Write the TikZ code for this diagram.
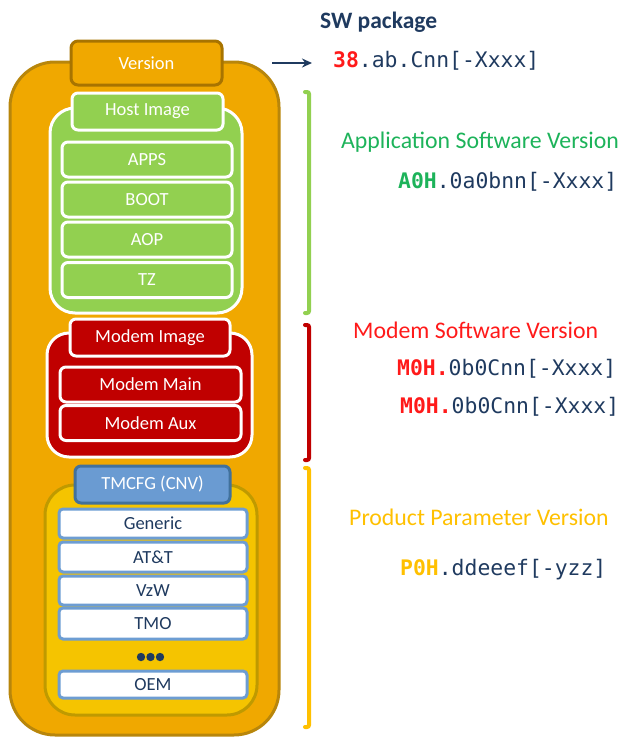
\documentclass[tikz,border=0pt]{standalone}
\usepackage{fontspec}
\setmainfont{Carlito}
\newfontfamily\monof{DejaVu Sans Mono}
\usetikzlibrary{arrows.meta}
\definecolor{orfill}{HTML}{F0A800}
\definecolor{ordraw}{HTML}{B8860B}
\definecolor{verdraw}{HTML}{A87400}
\definecolor{grn}{HTML}{92D050}
\definecolor{rd}{HTML}{C00000}
\definecolor{ylfill}{HTML}{F5C400}
\definecolor{yldraw}{HTML}{BF9A00}
\definecolor{blfill}{HTML}{6A9BD2}
\definecolor{bldraw}{HTML}{41719C}
\definecolor{blline}{HTML}{6D9DD3}
\definecolor{navy}{HTML}{1F3A5F}
\definecolor{appgreen}{HTML}{1DB35A}
\definecolor{brred}{HTML}{FF1A1A}
\definecolor{prodyel}{HTML}{FFC000}
\tikzset{
  box/.style={rectangle, inner sep=0pt, line width=3pt, font=\fontsize{18.5}{20}\selectfont},
  whitebox/.style={box, draw=white, text=white},
  listbox/.style={box, draw=blline, fill=white, text=navy, rounded corners=4pt, minimum width=188pt},
  label/.style={inner sep=0pt, anchor=west, font=\fontsize{23.8}{26}\selectfont},
  code/.style={inner sep=0pt, anchor=west, text=navy, font=\fontsize{21.4}{24}\monof, text height=16pt, text depth=5pt},
  bracket/.style={line width=4pt, line cap=round, rounded corners=2pt}
}
\begin{document}
\begin{tikzpicture}[x=1pt,y=-1pt]
\useasboundingbox (0,0) rectangle (622,737);
% outer container
\node[box, draw=ordraw, fill=orfill, rounded corners=45pt, minimum width=269pt, minimum height=673pt] (outer) at (144.5,398.5) {};
\node[box, draw=verdraw, fill=orfill, text=white, rounded corners=7pt, minimum width=151pt, minimum height=44pt] (version) at (146.5,63) {Version};
% host group
\node[whitebox, fill=grn, rounded corners=25pt, minimum width=192pt, minimum height=205pt] (hostgrp) at (146,210.5) {};
\node[whitebox, fill=grn, rounded corners=6pt, minimum width=151pt, minimum height=37pt] (hosttab) at (147.5,111.5) {Host Image};
\node[whitebox, fill=grn, rounded corners=6pt, minimum width=170pt, minimum height=35pt] (apps) at (147,159.5) {APPS};
\node[whitebox, fill=grn, rounded corners=6pt, minimum width=170pt, minimum height=35pt] (boot) at (147,199.5) {BOOT};
\node[whitebox, fill=grn, rounded corners=6pt, minimum width=170pt, minimum height=35pt] (aop) at (147,239.5) {AOP};
\node[whitebox, fill=grn, rounded corners=6pt, minimum width=170pt, minimum height=35pt] (tz) at (147,280) {TZ};
% modem group
\node[whitebox, fill=rd, rounded corners=22pt, minimum width=205pt, minimum height=124pt] (modemgrp) at (149.5,395) {};
\node[whitebox, fill=rd, rounded corners=6pt, minimum width=160pt, minimum height=37pt] (modemtab) at (150,337.5) {Modem Image};
\node[whitebox, fill=rd, rounded corners=6pt, minimum width=181pt, minimum height=35pt] (modemmain) at (150.5,384.5) {Modem Main};
\node[whitebox, fill=rd, rounded corners=6pt, minimum width=181pt, minimum height=35pt] (modemaux) at (150.5,423) {Modem Aux};
% tmcfg group
\node[box, draw=yldraw, fill=ylfill, rounded corners=30pt, minimum width=212pt, minimum height=230pt] (tmgrp) at (151,600) {};
\node[box, draw=bldraw, fill=blfill, text=white, rounded corners=6pt, minimum width=155pt, minimum height=37pt] (tmtab) at (152.5,484.5) {TMCFG (CNV)};
\node[listbox, minimum height=29pt] (generic) at (153,523.5) {Generic};
\node[listbox, minimum height=30pt] (att) at (153,557) {AT\&T};
\node[listbox, minimum height=29pt] (vzw) at (153,590.5) {VzW};
\node[listbox, minimum height=31pt] (tmo) at (153,623.5) {TMO};
\node[listbox, minimum height=27pt] (oem) at (153,684.5) {OEM};
\fill[navy] (141,657) circle (4.2pt) (150.5,657) circle (4.2pt) (160,657) circle (4.2pt);
% right side
\node[label, font=\fontsize{23.5}{26}\selectfont\bfseries, text=navy] (swpkg) at (320,22) {SW package};
\node[code] (code38) at (333,62) {\textbf{\textcolor{brred}{38}}.ab.Cnn[-Xxxx]};
\coordinate (arrS) at (272,63);
\draw[navy, line width=1.6pt, -{Stealth[length=10pt,width=9pt]}] (arrS) -- ([xshift=-21pt]code38.west |- arrS);
\draw[bracket, grn] (305,92) -- (309,92) -- (309,313) -- (305,313);
\draw[bracket, rd] (305,325) -- (309,325) -- (309,460) -- (305,460);
\draw[bracket, prodyel] (305,468) -- (309,468) -- (309,727) -- (305,727);
\node[label, text=appgreen] (appver) at (341,142) {Application Software Version};
\node[code] (codeA) at (398,183) {\textbf{\textcolor{appgreen}{A0H}}.0a0bnn[-Xxxx]};
\node[label, text=brred] (modver) at (353,330) {Modem Software Version};
\node[code] (codeM1) at (397,370) {\textbf{\textcolor{brred}{M0H.}}0b0Cnn[-Xxxx]};
\node[code] (codeM2) at (400,408) {\textbf{\textcolor{brred}{M0H.}}0b0Cnn[-Xxxx]};
\node[label, text=prodyel] (prodver) at (349,517) {Product Parameter Version};
\node[code] (codeP) at (400,570) {\textbf{\textcolor{prodyel}{P0H}}.ddeeef[-yzz]};
\end{tikzpicture}
\end{document}
